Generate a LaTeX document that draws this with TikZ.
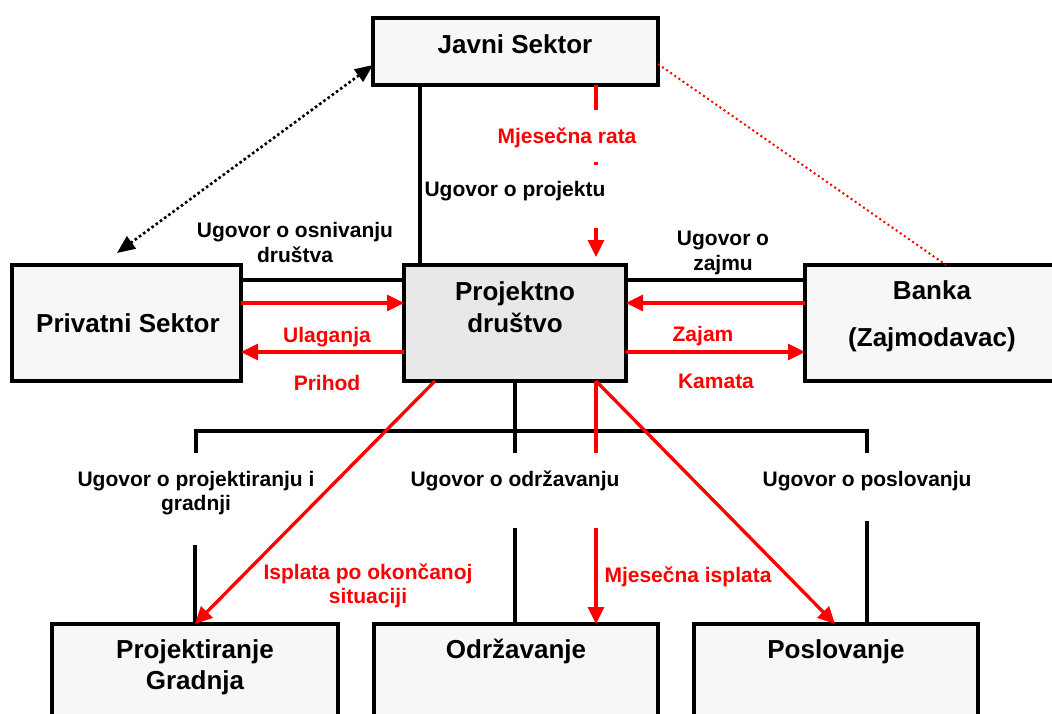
\documentclass[tikz,border=0pt]{standalone}
\usepackage{fontspec}
\setmainfont{Liberation Sans}
\usetikzlibrary{arrows.meta}
\definecolor{boxfill}{HTML}{F7F7F7}
\definecolor{hubfill}{HTML}{E8E8E8}
\definecolor{flowred}{HTML}{FF0000}

\begin{document}
\begin{tikzpicture}[x=1pt,y=-1pt,
  box/.style={draw=black, line width=4pt, fill=boxfill, rectangle,
    inner sep=0pt, outer sep=0pt, anchor=north west},
  boxtext/.style={anchor=base, inner sep=0pt,
    font=\fontsize{26}{30}\selectfont\bfseries},
  lbl/.style={anchor=base, inner sep=0pt,
    font=\fontsize{21}{25}\selectfont\bfseries},
  redlbl/.style={lbl, text=flowred},
  contract/.style={draw=black, line width=3.2pt},
  flow/.style={draw=flowred, line width=3.3pt},
  flowarrow/.style={flow, -{Triangle[length=17pt,width=16pt]}},
  link/.style={draw=black, line width=2.6pt, dash pattern=on 2.6pt off 2.6pt,
    {Triangle[length=18pt,width=15pt]}-{Triangle[length=18pt,width=15pt]}},
  loan/.style={draw=flowred, line width=2pt, dash pattern=on 2pt off 3pt}]

\useasboundingbox (0,0) rectangle (1052,713);
\clip (0,0) rectangle (1052,713);

% boxes
\node[box, minimum width=285pt, minimum height=67pt] (javni) at (373,18) {};
\node[box, minimum width=229pt, minimum height=116pt] (priv) at (12,265) {};
\node[box, fill=hubfill, minimum width=222pt, minimum height=116pt] (proj) at (404,265) {};
\node[box, minimum width=260pt, minimum height=116pt] (banka) at (805,265) {};
\node[box, minimum width=286pt, minimum height=120pt] (pg) at (52,624) {};
\node[box, minimum width=284pt, minimum height=120pt] (odr) at (374,624) {};
\node[box, minimum width=284pt, minimum height=120pt] (pos) at (694,624) {};

% box titles
\node[boxtext] (javniT) at (515,53) {Javni Sektor};
\node[boxtext] (privT) at (128,332) {Privatni Sektor};
\node[boxtext] (projT1) at (515,300) {Projektno};
\node[boxtext] (projT2) at (515,332) {društvo};
\node[boxtext] (bankaT1) at (932,299) {Banka};
\node[boxtext] (bankaT2) at (932,346) {(Zajmodavac)};
\node[boxtext] (pgT1) at (195,658) {Projektiranje};
\node[boxtext] (pgT2) at (195,689) {Gradnja};
\node[boxtext] (odrT) at (516,658) {Održavanje};
\node[boxtext] (posT) at (836,658) {Poslovanje};

% contract labels
\node[lbl] (osn1) at (295,237) {Ugovor o osnivanju};
\node[lbl] (osn2) at (295,262) {društva};
\node[lbl] (zaj1) at (723,245) {Ugovor o};
\node[lbl] (zaj2) at (723,270) {zajmu};
\node[lbl] (ugproj) at (515,196) {Ugovor o projektu};
\node[lbl] (upg1) at (196,486) {Ugovor o projektiranju i};
\node[lbl] (upg2) at (196,510) {gradnji};
\node[lbl] (uodr) at (515,486) {Ugovor o održavanju};
\node[lbl] (upos) at (867,486) {Ugovor o poslovanju};

% money flow labels
\node[redlbl] (rata) at (567,143) {Mjesečna rata};
\node[redlbl] (ulag) at (327,342) {Ulaganja};
\node[redlbl] (prih) at (327,390) {Prihod};
\node[redlbl] (zajam) at (703,341) {Zajam};
\node[redlbl] (kam) at (716,388) {Kamata};
\node[redlbl] (ispl1) at (368,579) {Isplata po okončanoj};
\node[redlbl] (ispl2) at (368,603) {situaciji};
\node[redlbl] (mjisp) at (688,582) {Mjesečna isplata};

% helper levels
\coordinate (yA) at (0,280);
\coordinate (yB) at (0,303);
\coordinate (yC) at (0,352);
\coordinate (xL) at (420,0);
\coordinate (xR) at (596,0);
\coordinate (rA) at (596,110);
\coordinate (dotA) at (596,162);
\coordinate (dotB) at (596,165);
\coordinate (rB) at (596,228);
\coordinate (linkY) at (0,65);
\coordinate (linkEnd) at (117,253);
\coordinate (loanY) at (0,64);
\coordinate (loanX) at (946,0);
\coordinate (stubEnd) at (0,453);
\coordinate (busL) at (196,431);
\coordinate (busR) at (867,431);
\coordinate (diagL) at (435,0);
\coordinate (tipR) at (835,0);

% private sector <-> project company
\draw[contract] (priv.east |- yA) -- (proj.west |- yA);
\draw[flowarrow] (priv.east |- yB) -- (proj.west |- yB);
\draw[flowarrow] (proj.west |- yC) -- (priv.east |- yC);

% bank <-> project company
\draw[contract] (proj.east |- yA) -- (banka.west |- yA);
\draw[flowarrow] (banka.west |- yB) -- (proj.east |- yB);
\draw[flowarrow] (proj.east |- yC) -- (banka.west |- yC);

% public sector -> project company
\draw[contract] (javni.south -| xL) -- (proj.north -| xL);
\draw[flow] (javni.south -| rA) -- (rA);
\draw[flow] (dotA) -- (dotB);
\draw[flowarrow, shorten >=8pt] (rB) -- (proj.north -| rB);

% dotted relations
\draw[link] (javni.west |- linkY) -- (linkEnd);
\draw[loan] (javni.east |- loanY) -- (banka.north -| loanX);

% contract tree below the project company
\draw[contract] (proj.south) -- (proj.south |- stubEnd);
\draw[contract, line join=miter] (busL |- stubEnd) -- (busL) -- (busR) -- (busR |- stubEnd);
\draw[flow] (proj.south -| xR) -- (xR |- stubEnd);
\draw[contract] (pg.north) -- ++(0,-79);
\draw[contract] (odr.north -| proj.south) -- ++(0,-96);
\draw[contract] (pos.north -| busR) -- ++(0,-103);
\draw[flowarrow] (xR |- odr.north) ++(0,-96) -- (odr.north -| xR);

% payments to the contractors
\draw[flowarrow] (proj.south -| diagL) -- (pg.north);
\draw[flowarrow] (proj.south -| xR) -- (pos.north -| tipR);

\end{tikzpicture}
\end{document}
